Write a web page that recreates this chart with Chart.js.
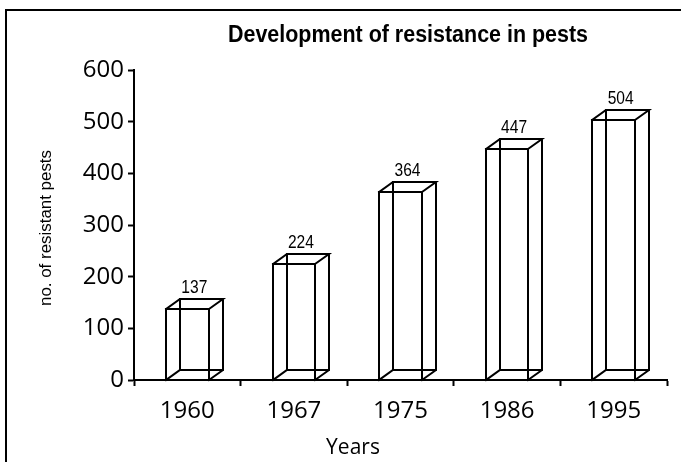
<!DOCTYPE html>
<html>
<head>
<meta charset="utf-8">
<script src="https://cdn.jsdelivr.net/npm/chart.js@4.4.0/dist/chart.umd.min.js"></script>
<style>
  html, body { margin: 0; padding: 0; background: #fff; }
  #wrap { width: 681px; height: 462px; position: relative; }
</style>
</head>
<body>
<div id="wrap"><canvas id="pestChart" width="681" height="462"></canvas></div>
<script>
const years = ['1960', '1967', '1975', '1986', '1995'];
const resistantPests = [137, 224, 364, 447, 504];
const yTickMax = 600;
const yTickStep = 100;

const chartTitle = 'Development of resistance in pests';
const xTitle = 'Years';
const yTitle = 'no. of resistant pests';

const tickFont = "'Open Sans', 'Noto Sans', sans-serif";
const labelFont = "'Liberation Sans', Arial, sans-serif";

// depth of the wireframe boxes
const depthX = 14;
const depthY = 10;

// draws text squeezed horizontally to a given width
function squeezedText(ctx, text, x, y, font, width) {
    ctx.save();
    ctx.font = font;
    const w = ctx.measureText(text).width;
    ctx.translate(x, y);
    ctx.scale(width / w, 1);
    ctx.fillText(text, 0, 0);
    ctx.restore();
}

const boxPlugin = {
    id: 'boxes',
    beforeDraw(chart) {
        const ctx = chart.ctx;
        ctx.save();
        ctx.fillStyle = '#fff';
        ctx.fillRect(0, 0, chart.width, chart.height);
        // outer frame (left and top only)
        ctx.fillStyle = '#000';
        ctx.fillRect(5, 9, 2, chart.height);
        ctx.fillRect(5, 9, chart.width, 2);
        ctx.restore();
    },
    afterDatasetsDraw(chart) {
        const ctx = chart.ctx;
        const meta = chart.getDatasetMeta(0);
        ctx.save();
        ctx.strokeStyle = '#000';
        ctx.fillStyle = '#000';
        ctx.lineCap = 'square';
        ctx.lineJoin = 'miter';
        meta.data.forEach((bar, i) => {
            const p = bar.getProps(['x', 'y', 'base', 'width'], true);
            const l = Math.round(p.x - p.width / 2);
            const r = Math.round(p.x + p.width / 2);
            const t = Math.round(p.y);
            const b = Math.round(p.base);
            ctx.lineWidth = 2;
            ctx.beginPath();
            // front face
            ctx.rect(l, t, r - l, b - t);
            // top face and right side
            ctx.moveTo(l, t); ctx.lineTo(l + depthX, t - depthY);
            ctx.lineTo(r + depthX, t - depthY);
            ctx.lineTo(r, t);
            ctx.moveTo(r + depthX, t - depthY); ctx.lineTo(r + depthX, b - depthY);
            ctx.lineTo(r, b);
            // hidden edges
            ctx.moveTo(l + depthX, t - depthY); ctx.lineTo(l + depthX, b - depthY);
            ctx.lineTo(r + depthX, b - depthY);
            ctx.moveTo(l + depthX, b - depthY); ctx.lineTo(l, b);
            ctx.stroke();
            // value label
            ctx.textAlign = 'center';
            ctx.textBaseline = 'alphabetic';
            squeezedText(ctx, String(resistantPests[i]), p.x + depthX / 2, t - depthY - 6, '19px ' + labelFont, 26);
        });

        // titles
        ctx.textAlign = 'center';
        ctx.textBaseline = 'middle';
        squeezedText(ctx, chartTitle, 408, 36, 'bold 23px ' + labelFont, 360);
        ctx.font = '21px ' + tickFont;
        ctx.fillText(xTitle, 353, 448);
        ctx.translate(46, 228);
        ctx.rotate(-Math.PI / 2);
        squeezedText(ctx, yTitle, 0, 0, '17px ' + labelFont, 156);
        ctx.restore();
    }
};

const ctx = document.getElementById('pestChart').getContext('2d');

new Chart(ctx, {
    type: 'bar',
    data: {
        labels: years,
        datasets: [{
            data: resistantPests,
            backgroundColor: 'rgba(0,0,0,0)',
            borderColor: 'rgba(0,0,0,0)',
            borderWidth: 0,
            barPercentage: 0.4,
            categoryPercentage: 1
        }]
    },
    options: {
        responsive: false,
        animation: false,
        layout: {
            padding: { left: 0, top: 70, right: 14, bottom: 0 }
        },
        scales: {
            x: {
                offset: true,
                grid: {
                    offset: true,
                    drawOnChartArea: false,
                    drawTicks: true,
                    tickLength: 6,
                    tickWidth: 2,
                    color: '#000'
                },
                border: { color: '#000', width: 2 },
                ticks: {
                    color: '#000',
                    padding: 11,
                    font: { family: tickFont, size: 24 }
                },
                afterFit(scale) { scale.height = 82; }
            },
            y: {
                min: 0,
                max: yTickMax,
                grid: {
                    drawOnChartArea: false,
                    drawTicks: true,
                    tickLength: 6,
                    tickWidth: 2,
                    color: '#000'
                },
                border: { color: '#000', width: 2 },
                ticks: {
                    stepSize: yTickStep,
                    color: '#000',
                    padding: 4,
                    font: { family: tickFont, size: 24 }
                },
                afterFit(scale) { scale.width = 134; }
            }
        },
        plugins: {
            legend: { display: false },
            tooltip: { enabled: false }
        }
    },
    plugins: [boxPlugin]
});
</script>
</body>
</html>
